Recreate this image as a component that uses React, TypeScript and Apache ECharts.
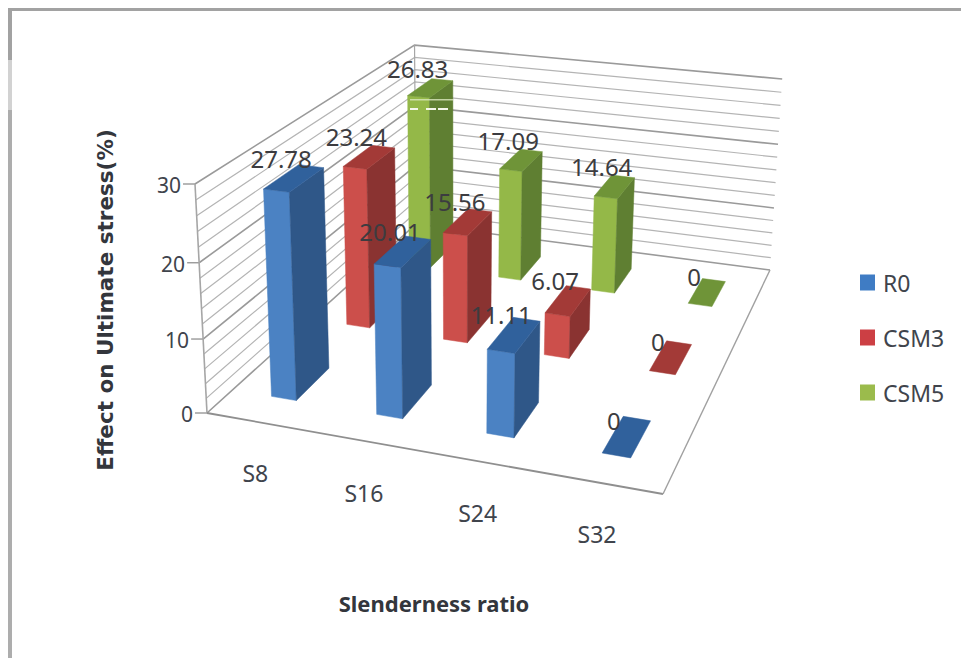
import React, { useEffect, useRef } from "react";
import * as echarts from "echarts";

const categories = ["S8", "S16", "S24", "S32"];
const r0 = [27.78, 20.01, 11.11, 0];
const csm3 = [23.24, 15.56, 6.07, 0];
const csm5 = [26.83, 17.09, 14.64, 0];
const gridValues = [0, 2, 4, 6, 8, 10, 12, 14, 16, 18, 20, 22, 24, 26, 28, 30];
const tickLabels = [0, 10, 20, 30];

type Pt = [number, number];

// Screen positions of the plot box corners: floor corners and two top corners.
const FLOOR_FRONT_LEFT: Pt = [207, 413];
const FLOOR_FRONT_RIGHT: Pt = [663, 494];
const FLOOR_BACK_RIGHT: Pt = [770, 270];
const FLOOR_BACK_LEFT: Pt = [416, 224];
const TOP_FRONT_LEFT: Pt = [195, 184];
const TOP_BACK_RIGHT: Pt = [782, 82];

const BAR_WIDTH = 0.24; // share of a category cell
const BAR_DEPTH = 0.42; // share of a series row

const FONT = "'Noto Sans', sans-serif";
const TEXT = "#40444c";

const cross = (a: number[], b: number[]) => [
  a[1] * b[2] - a[2] * b[1],
  a[2] * b[0] - a[0] * b[2],
  a[0] * b[1] - a[1] * b[0],
];
const h = (p: Pt) => [p[0], p[1], 1];
const det3 = (m: number[][]) =>
  m[0][0] * (m[1][1] * m[2][2] - m[1][2] * m[2][1]) -
  m[0][1] * (m[1][0] * m[2][2] - m[1][2] * m[2][0]) +
  m[0][2] * (m[1][0] * m[2][1] - m[1][1] * m[2][0]);

// Builds a perspective camera (3x4 matrix) from the box corners.
function buildCamera() {
  const A = h(FLOOR_FRONT_LEFT);
  const B = h(FLOOR_FRONT_RIGHT);
  const C = h(FLOOR_BACK_RIGHT);
  const D = h(FLOOR_BACK_LEFT);
  // a*B + b*D - d*A = C
  const M = [
    [B[0], D[0], -A[0]],
    [B[1], D[1], -A[1]],
    [B[2], D[2], -A[2]],
  ];
  const det = det3(M);
  const rep = (col: number) => M.map((row, r) => row.map((v, c) => (c === col ? C[r] : v)));
  const a = det3(rep(0)) / det;
  const b = det3(rep(1)) / det;
  const d = det3(rep(2)) / det;
  const V = cross(cross(A, h(TOP_FRONT_LEFT)), cross(C, h(TOP_BACK_RIGHT)));
  const k = (d * (TOP_FRONT_LEFT[1] - A[1])) / (V[1] - TOP_FRONT_LEFT[1] * V[2]);
  const col = (i: number) => ({
    x: a * B[i] - d * A[i],
    y: b * D[i] - d * A[i],
    z: k * V[i],
    o: d * A[i],
  });
  return [col(0), col(1), col(2)];
}
const camera = buildCamera();

// u: along categories, v: into the depth, w: up the value axis, each 0..1.
function project(u: number, v: number, w: number): Pt {
  const [cx, cy, cw] = camera.map((c) => c.x * u + c.y * v + c.z * w + c.o);
  return [cx / cw, cy / cw];
}

const GRID_SIZE = 100;

function barRenderer(row: number, front: string, side: string, top: string) {
  return (params: any, api: any) => {
    const i = api.value(0);
    const p = api.coord([i, api.value(1)]);
    const cell = api.size([1, 0])[0] / GRID_SIZE;
    const uc = p[0] / GRID_SIZE;
    const w = 1 - p[1] / GRID_SIZE;
    const u0 = uc - (cell * BAR_WIDTH) / 2;
    const u1 = uc + (cell * BAR_WIDTH) / 2;
    const v0 = (row + 0.5 - BAR_DEPTH / 2) / 3;
    const v1 = (row + 0.5 + BAR_DEPTH / 2) / 3;
    const face = (points: Pt[], fill: string) => ({
      type: "polygon",
      shape: { points },
      style: { fill, stroke: fill, lineWidth: 0.5 },
    });
    const children: any[] = [];
    if (w > 0) {
      children.push(
        face([project(u0, v0, 0), project(u1, v0, 0), project(u1, v0, w), project(u0, v0, w)], front),
        face([project(u1, v0, 0), project(u1, v1, 0), project(u1, v1, w), project(u1, v0, w)], side),
      );
    }
    children.push(face([project(u0, v0, w), project(u1, v0, w), project(u1, v1, w), project(u0, v1, w)], top));
    return { type: "group", children };
  };
}

function labelRenderer(params: any, api: any) {
  const i = api.value(0);
  const value = api.value(1);
  const row = api.value(2);
  const p = api.coord([i, value]);
  const [x, y] = project(p[0] / GRID_SIZE, (row + 0.5) / 3, 1 - p[1] / GRID_SIZE);
  return {
    type: "text",
    x: x - 13,
    y: y - (value === 0 ? 16 : 20),
    style: {
      text: String(value),
      fontFamily: FONT,
      fontSize: 24,
      fill: "#3c3c40",
      align: "center",
      verticalAlign: "middle",
    },
  };
}

function wallRenderer(params: any, api: any) {
  const value = api.value(1);
  const w = 1 - api.coord([0, value])[1] / GRID_SIZE;
  const major = value % 10 === 0;
  const stroke = major ? "#9a9a9a" : "#b4b4b4";
  const lineWidth = major ? 1.6 : 1.2;
  const a = project(0, 0, w);
  const b = project(0, 1, w);
  const c = project(1, 1, w);
  const children: any[] = [
    { type: "polyline", shape: { points: [a, b, c] }, style: { fill: "none", stroke, lineWidth } },
  ];
  if (tickLabels.includes(value)) {
    children.push(
      { type: "line", shape: { x1: a[0] - 12, y1: a[1], x2: a[0], y2: a[1] }, style: { stroke: "#999", lineWidth: 1.4 } },
      {
        type: "text",
        x: a[0] - 14,
        y: a[1] + 1,
        style: { text: String(value), fontFamily: FONT, fontSize: 21, fill: TEXT, align: "right", verticalAlign: "middle" },
      },
    );
  }
  return { type: "group", children };
}

function boxRenderer(params: any, api: any) {
  // Outline of the floor and the two vertical edges of the side wall.
  const edge = (p: Pt[], stroke: string, lineWidth: number) => ({
    type: "polyline",
    shape: { points: p },
    style: { fill: "none", stroke, lineWidth },
  });
  return {
    type: "group",
    children: [
      edge([project(0, 0, 0), project(0, 0, 1)], "#a6a6a6", 1.6),
      edge([project(0, 1, 0), project(0, 1, 1)], "#a6a6a6", 1.2),
      edge([project(0, 0, 0), project(1, 0, 0)], "#8f8f8f", 1.8),
      edge([project(1, 0, 0), project(1, 1, 0)], "#a0a0a0", 1.4),
    ],
  };
}

function categoryRenderer(params: any, api: any) {
  const i = api.value(0);
  const u = api.coord([i, 0])[0] / GRID_SIZE;
  const [x, y] = project(u, 0, 0);
  return {
    type: "text",
    x: x - 4,
    y: y + 51,
    style: {
      text: categories[i],
      fontFamily: FONT,
      fontSize: 23,
      fill: TEXT,
      align: "center",
      verticalAlign: "middle",
    },
  };
}

const rows = [
  { name: "R0", values: r0, front: "#4b82c3", side: "#2f5788", top: "#30619c", row: 0, legend: "#3f7cc4" },
  { name: "CSM3", values: csm3, front: "#cc4f4b", side: "#8a3331", top: "#a33a37", row: 1, legend: "#cc3f44" },
  { name: "CSM5", values: csm5, front: "#94b848", side: "#5f7f32", top: "#6f9438", row: 2, legend: "#9bbb4c" },
];

export default function App() {
  const ref = useRef<HTMLDivElement>(null);
  useEffect(() => {
    const chart = echarts.init(ref.current!, null, { renderer: "svg" });
    const barSeries = [...rows].reverse().map((s) => ({
      type: "custom",
      name: s.name,
      z: 3,
      silent: true,
      itemStyle: { color: s.legend },
      renderItem: barRenderer(s.row, s.front, s.side, s.top),
      encode: { x: 0, y: 1 },
      data: s.values.map((v, i) => [i, v]),
    }));
    chart.setOption({
      animation: false,
      backgroundColor: "#ffffff",
      grid: { left: 0, top: 0, width: GRID_SIZE, height: GRID_SIZE },
      xAxis: { type: "category", data: categories, show: false },
      yAxis: { type: "value", min: 0, max: 30, interval: 10, show: false },
      legend: {
        data: rows.map((s) => s.name),
        orient: "vertical",
        left: 855,
        top: 266,
        icon: "rect",
        itemWidth: 15,
        itemHeight: 16,
        itemGap: 32,
        textStyle: { fontFamily: FONT, fontSize: 23, color: TEXT, padding: [0, 0, 0, 3] },
        selectedMode: false,
      },
      graphic: [
        { type: "rect", shape: { x: 8, y: 8, width: 953, height: 3 }, style: { fill: "#a2a2a2" } },
        { type: "rect", shape: { x: 8, y: 8, width: 4, height: 52 }, style: { fill: "#a2a2a2" } },
        { type: "rect", shape: { x: 8, y: 60, width: 4, height: 50 }, style: { fill: "#d2d2d2" } },
        { type: "rect", shape: { x: 8, y: 110, width: 4, height: 548 }, style: { fill: "#adadad" } },
        // Pale streaks across the tallest green column
        { type: "rect", z: 10, shape: { x: 410, y: 99, width: 43, height: 1.5 }, style: { fill: "#dbe8bf", opacity: 0.8 } },
        { type: "rect", z: 10, shape: { x: 410, y: 108, width: 8, height: 2 }, style: { fill: "#f4f7ea" } },
        { type: "rect", z: 10, shape: { x: 426, y: 108, width: 10, height: 2 }, style: { fill: "#f4f7ea" } },
        { type: "rect", z: 10, shape: { x: 438, y: 108, width: 10, height: 2 }, style: { fill: "#f4f7ea" } },
        {
          type: "text",
          x: 105,
          y: 300,
          rotation: Math.PI / 2,
          style: {
            text: "Effect on Ultimate stress(%)",
            fontFamily: "'DejaVu Sans', sans-serif",
            fontSize: 21.5,
            fontWeight: "bold",
            fill: "#33363c",
            align: "center",
            verticalAlign: "middle",
          },
        },
        {
          type: "text",
          x: 434,
          y: 603,
          style: {
            text: "Slenderness ratio",
            fontFamily: FONT,
            fontSize: 22,
            fontWeight: "bold",
            fill: "#33363c",
            align: "center",
            verticalAlign: "middle",
          },
        },
      ],
      series: [
        {
          type: "custom",
          name: "walls",
          z: 1,
          silent: true,
          renderItem: wallRenderer,
          encode: { x: 0, y: 1 },
          data: gridValues.map((v) => [0, v]),
        },
        {
          type: "custom",
          name: "box",
          z: 2,
          silent: true,
          renderItem: boxRenderer,
          encode: { x: 0, y: 1 },
          data: [[0, 0]],
        },
        {
          type: "custom",
          name: "categories",
          z: 2,
          silent: true,
          renderItem: categoryRenderer,
          encode: { x: 0, y: 1 },
          data: categories.map((_, i) => [i, 0]),
        },
        ...barSeries,
        {
          type: "custom",
          name: "values",
          z: 5,
          silent: true,
          renderItem: labelRenderer,
          encode: { x: 0, y: 1 },
          data: rows.flatMap((s) => s.values.map((v, i) => [i, v, s.row])),
        },
      ],
    });
    return () => chart.dispose();
  }, []);
  return <div ref={ref} style={{ position: "absolute", left: 0, top: 0, width: 961, height: 658 }} />;
}
